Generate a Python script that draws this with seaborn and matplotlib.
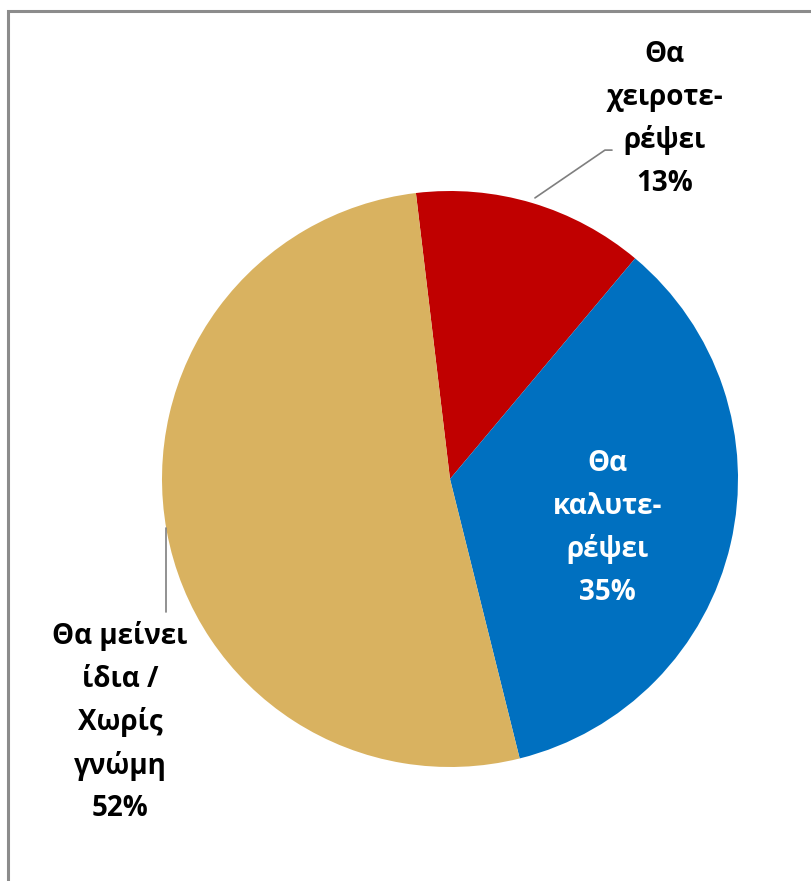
import numpy as np
import matplotlib
matplotlib.use("Agg")
import matplotlib.pyplot as plt
import seaborn as sns

# data
categories = ["Θα\nχειροτε-\nρέψει", "Θα\nκαλυτε-\nρέψει", "Θα μείνει\nίδια /\nΧωρίς\nγνώμη"]
shares = [13, 35, 52]
colors = ["#C00000", "#0070C0", "#D9B260"]
text_colors = ["black", "white", "black"]

sns.set_theme(style="white")
plt.rcParams["font.family"] = ["Open Sans", "DejaVu Sans"]

fig = plt.figure(figsize=(8.12, 8.81), dpi=100)
W, H = 812, 881
cx, cy, r = 450, 479, 288
ax = fig.add_axes([(cx - r) / W, (H - cy - r) / H, 2 * r / W, 2 * r / H])

wedges, _ = ax.pie(shares, colors=colors, startangle=96.8, counterclock=False,
                   radius=1, wedgeprops=dict(linewidth=0))
ax.set_xlim(-1, 1)
ax.set_ylim(-1, 1)
ax.set_aspect("equal")
ax.axis("off")

# label positions (data units of pie, radius=1)
label_pos = [(0.745, 1.25), (0.548, -0.17), (-1.146, -0.845)]
for name, val, (x, y), tc in zip(categories, shares, label_pos, text_colors):
    ax.text(x, y, f"{name}\n{val}%", ha="center", va="center", fontsize=20,
            fontweight="bold", color=tc, linespacing=1.6, clip_on=False)

# leader lines
ax.plot([0.295, 0.538, 0.5625], [0.976, 1.142, 1.142], color="#7F7F7F", lw=1.2, clip_on=False)
ax.plot([-0.986, -0.986], [-0.17, -0.462], color="#7F7F7F", lw=1.2, clip_on=False)

# chart border
fig.patches.append(plt.Rectangle((8 / W, -0.1), 1.2, 1.1 - 11 / H, transform=fig.transFigure,
                                 fill=False, edgecolor="#8C8C8C", lw=2.2))

fig.savefig("out.png", dpi=100)
